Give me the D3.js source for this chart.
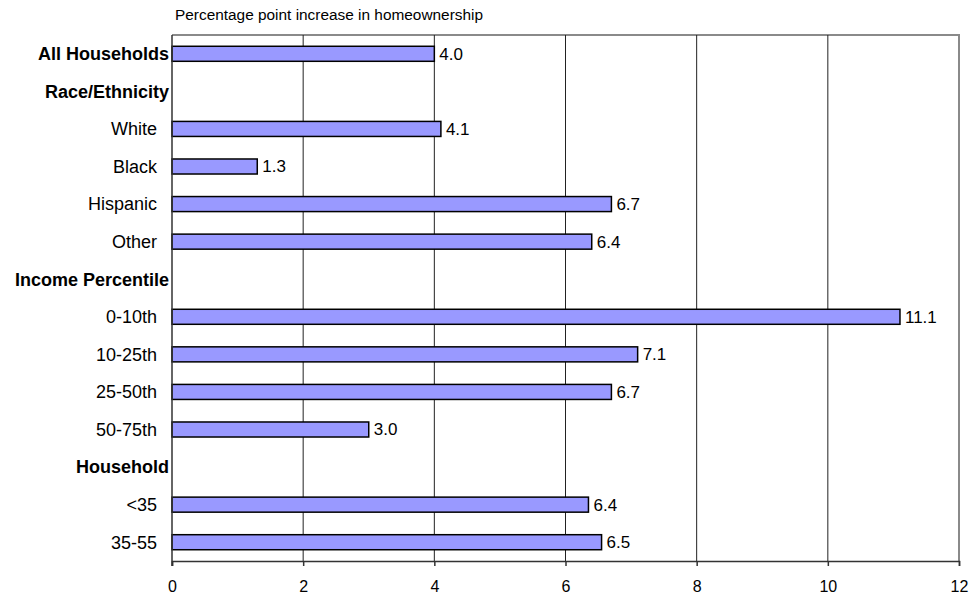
<!DOCTYPE html>
<html>
<head>
<meta charset="utf-8">
<script src="https://cdn.jsdelivr.net/npm/d3@7"></script>
<style>
  body { margin: 0; background: #fff; }
  text { font-family: Arial, "Liberation Sans", sans-serif; fill: #000; }
</style>
</head>
<body>
<svg id="chart" width="971" height="599"></svg>
<script>
// row labels, top to bottom; headers have no bar
const categories = [
  "All Households", "Race/Ethnicity", "White", "Black", "Hispanic", "Other",
  "Income Percentile", "0-10th", "10-25th", "25-50th", "50-75th",
  "Household", "<35", "35-55",
];
const headers = ["All Households", "Race/Ethnicity", "Income Percentile", "Household"];
const values = [4.0, null, 4.1, 1.3, 6.7, 6.4, null, 11.1, 7.1, 6.7, 3.0, null, 6.35, 6.55];
const valueLabels = ["4.0", "", "4.1", "1.3", "6.7", "6.4", "", "11.1", "7.1", "6.7", "3.0", "", "6.4", "6.5"];
const xTicks = [0, 2, 4, 6, 8, 10, 12];

const margin = { top: 35, right: 12, bottom: 38, left: 172 };
const width = 971, height = 599;
const svg = d3.select("#chart");

const x = d3.scaleLinear().domain([0, 12]).range([margin.left, width - margin.right]);
const y = d3.scaleBand().domain(categories).range([margin.top, height - margin.bottom]).paddingInner(0.6).paddingOuter(0.3);
const bottomY = height - margin.bottom;

svg.append("text")
  .attr("x", 175).attr("y", 20)
  .style("font-size", "15.4px")
  .text("Percentage point increase in homeownership");

// plot frame (top and right, gray)
svg.append("path")
  .attr("d", `M${x(0)},${margin.top}H${x(12)}V${bottomY}`)
  .attr("fill", "none").attr("stroke", "#8a8a8a").attr("stroke-width", 2);

// vertical gridlines
svg.append("g").selectAll("line")
  .data(xTicks.filter((t) => t > 0 && t < 12))
  .join("line")
  .attr("x1", (t) => x(t)).attr("x2", (t) => x(t))
  .attr("y1", margin.top).attr("y2", bottomY)
  .attr("stroke", "#222").attr("stroke-width", 1);

// bars
const rows = categories.map((name, i) => ({ name, value: values[i], label: valueLabels[i] }));
const barRows = rows.filter((d) => d.value != null);

svg.append("g").selectAll("rect")
  .data(barRows)
  .join("rect")
  .attr("x", x(0))
  .attr("y", (d) => y(d.name))
  .attr("width", (d) => x(d.value) - x(0))
  .attr("height", y.bandwidth())
  .attr("fill", "#9999ff")
  .attr("stroke", "#000").attr("stroke-width", 1.5);

svg.append("g").selectAll("text")
  .data(barRows)
  .join("text")
  .attr("x", (d) => x(d.value) + 5)
  .attr("y", (d) => y(d.name) + y.bandwidth() / 2)
  .attr("dy", "0.35em")
  .style("font-size", "17px")
  .text((d) => d.label);

// category labels
svg.append("g").selectAll("text")
  .data(rows)
  .join("text")
  .attr("x", (d) => (headers.includes(d.name) ? 169 : 157))
  .attr("y", (d) => y(d.name) + y.bandwidth() / 2)
  .attr("dy", "0.35em")
  .attr("text-anchor", "end")
  .style("font-size", "18px")
  .style("font-weight", (d) => (headers.includes(d.name) ? "bold" : "normal"))
  .text((d) => d.name);

// x axis
const xAxis = svg.append("g")
  .attr("transform", `translate(0,${bottomY})`)
  .call(d3.axisBottom(x).tickValues(xTicks).tickSize(5).tickPadding(15).tickFormat(d3.format("d")));
xAxis.select(".domain").attr("stroke", "#333").attr("stroke-width", 1.5);
xAxis.selectAll(".tick line").attr("stroke", "#333").attr("stroke-width", 1.5);
xAxis.selectAll(".tick text").style("font-size", "16px").attr("font-family", null);

// y axis line
svg.append("line")
  .attr("x1", x(0)).attr("x2", x(0))
  .attr("y1", margin.top).attr("y2", bottomY + 5)
  .attr("stroke", "#333").attr("stroke-width", 1.5);
</script>
</body>
</html>
